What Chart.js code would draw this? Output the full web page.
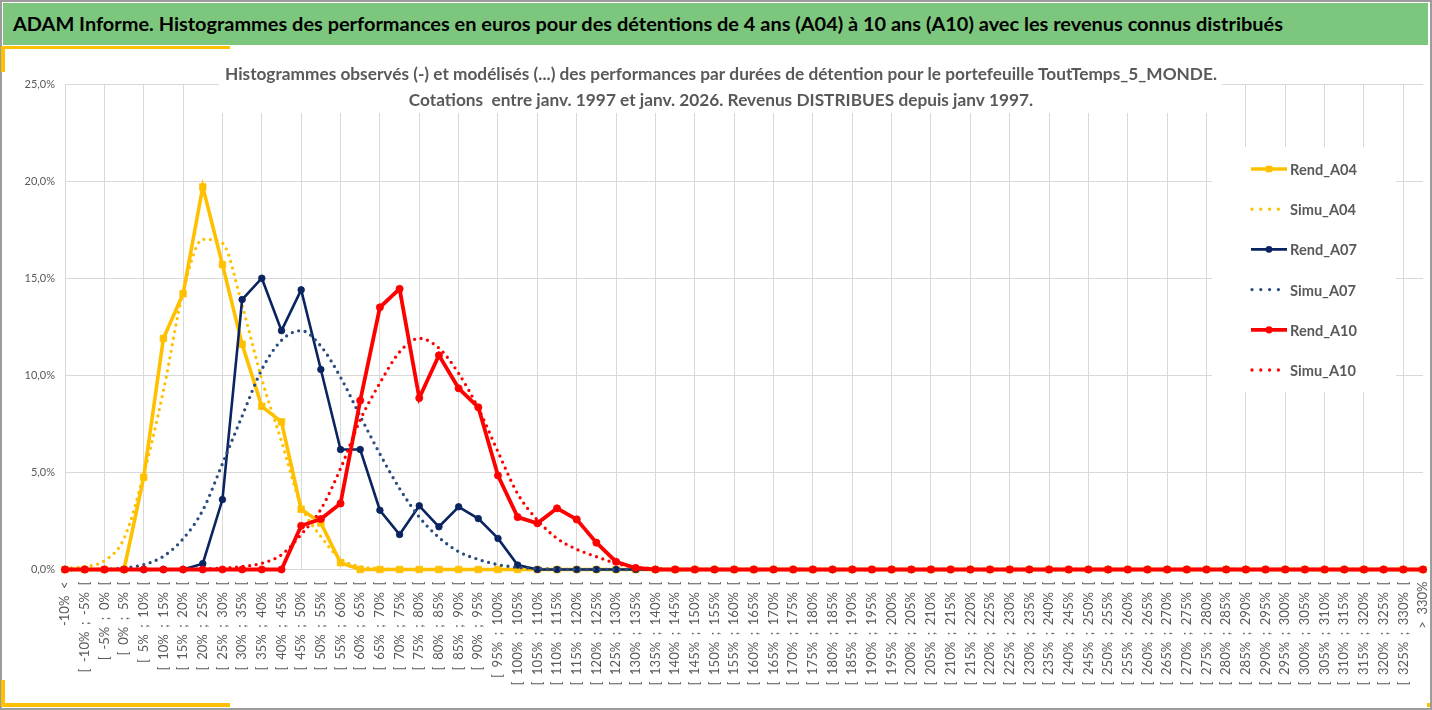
<!DOCTYPE html>
<html lang="fr">
<head>
<meta charset="utf-8">
<title>ADAM Informe - Histogrammes des performances</title>
<script src="https://cdn.jsdelivr.net/npm/chart.js@4.4.1/dist/chart.umd.min.js"></script>
<style>
    html, body { margin: 0; padding: 0; background: #fff; }
    #frame { position: relative; width: 1432px; height: 710px; overflow: hidden; font-family: Lato, "Open Sans", sans-serif; }
    #myChart { position: absolute; left: 0; top: 0; }
    #border { position: absolute; left: 0; top: 0; width: 1432px; height: 710px; box-sizing: border-box; border: 2px solid #9c9c9c; pointer-events: none; }
    #header { position: absolute; left: 3px; top: 3px; width: 1425px; height: 42px; background: #7dc67e; display: flex; align-items: center; }
    #headerText { display: inline-block; margin-left: 10px; font-weight: bold; font-size: 18.6px; color: #000; white-space: nowrap; transform-origin: left center; }
    .accent { position: absolute; background: #ffc000; }
</style>
</head>
<body>
<div id="frame">
    <canvas id="myChart" width="1432" height="710"></canvas>
    <div id="border"></div>
    <div id="header"><span id="headerText">ADAM Informe. Histogrammes des performances en euros pour des détentions de 4 ans (A04) à 10 ans (A10) avec les revenus connus distribués</span></div>
    <div class="accent" style="left:2px; top:46px; width:228px; height:3px;"></div>
    <div class="accent" style="left:1px; top:46px; width:4px; height:26px;"></div>
    <div class="accent" style="left:1px; top:680px; width:4px; height:27px;"></div>
    <div class="accent" style="left:1px; top:703px; width:229px; height:4px;"></div>
    <div class="accent" style="left:1427px; top:703px; width:3px; height:4px;"></div>
</div>
<script>
// Categories (x axis tick labels)
const categories = [
    "-10%  <", "[  -10%  ;  -5%  [", "[  -5%  ;  0%  [", "[  0%  ;  5%  [", "[  5%  ;  10%  [",
    "[  10%  ;  15%  [", "[  15%  ;  20%  [", "[  20%  ;  25%  [", "[  25%  ;  30%  [", "[  30%  ;  35%  [",
    "[  35%  ;  40%  [", "[  40%  ;  45%  [", "[  45%  ;  50%  [", "[  50%  ;  55%  [", "[  55%  ;  60%  [",
    "[  60%  ;  65%  [", "[  65%  ;  70%  [", "[  70%  ;  75%  [", "[  75%  ;  80%  [", "[  80%  ;  85%  [",
    "[  85%  ;  90%  [", "[  90%  ;  95%  [", "[  95%  ;  100%  [", "[  100%  ;  105%  [", "[  105%  ;  110%  [",
    "[  110%  ;  115%  [", "[  115%  ;  120%  [", "[  120%  ;  125%  [", "[  125%  ;  130%  [", "[  130%  ;  135%  [",
    "[  135%  ;  140%  [", "[  140%  ;  145%  [", "[  145%  ;  150%  [", "[  150%  ;  155%  [", "[  155%  ;  160%  [",
    "[  160%  ;  165%  [", "[  165%  ;  170%  [", "[  170%  ;  175%  [", "[  175%  ;  180%  [", "[  180%  ;  185%  [",
    "[  185%  ;  190%  [", "[  190%  ;  195%  [", "[  195%  ;  200%  [", "[  200%  ;  205%  [", "[  205%  ;  210%  [",
    "[  210%  ;  215%  [", "[  215%  ;  220%  [", "[  220%  ;  225%  [", "[  225%  ;  230%  [", "[  230%  ;  235%  [",
    "[  235%  ;  240%  [", "[  240%  ;  245%  [", "[  245%  ;  250%  [", "[  250%  ;  255%  [", "[  255%  ;  260%  [",
    "[  260%  ;  265%  [", "[  265%  ;  270%  [", "[  270%  ;  275%  [", "[  275%  ;  280%  [", "[  280%  ;  285%  [",
    "[  285%  ;  290%  [", "[  290%  ;  295%  [", "[  295%  ;  300%  [", "[  300%  ;  305%  [", "[  305%  ;  310%  [",
    "[  310%  ;  315%  [", "[  315%  ;  320%  [", "[  320%  ;  325%  [", "[  325%  ;  330%  [", ">  330%"
];

// Series values (in %), one value per category
const rendA04 = [
    0, 0, 0, 0, 4.75, 11.9, 14.2, 19.7, 15.7, 11.6,
    8.4, 7.6, 3.1, 2.4, 0.35, 0, 0, 0, 0, 0,
    0, 0, 0, 0, 0, 0, 0, 0, 0, 0,
    0, 0, 0, 0, 0, 0, 0, 0, 0, 0,
    0, 0, 0, 0, 0, 0, 0, 0, 0, 0,
    0, 0, 0, 0, 0, 0, 0, 0, 0, 0,
    0, 0, 0, 0, 0, 0, 0, 0, 0, 0
];
const simuA04 = [
    0.05, 0.15, 0.45, 1.6, 4.9, 9.2, 14.3, 17.0, 16.8, 13.6,
    9.8, 6.6, 3.3, 1.7, 0.55, 0.15, 0.05, 0, 0, 0,
    0, 0, 0, 0, 0, 0, 0, 0, 0, 0,
    0, 0, 0, 0, 0, 0, 0, 0, 0, 0,
    0, 0, 0, 0, 0, 0, 0, 0, 0, 0,
    0, 0, 0, 0, 0, 0, 0, 0, 0, 0,
    0, 0, 0, 0, 0, 0, 0, 0, 0, 0
];
const rendA07 = [
    0, 0, 0, 0, 0, 0, 0, 0.3, 3.6, 13.9,
    15.0, 12.3, 14.4, 10.3, 6.18, 6.18, 3.05, 1.8, 3.28, 2.2,
    3.23, 2.62, 1.6, 0.23, 0, 0, 0, 0, 0, 0,
    0, 0, 0, 0, 0, 0, 0, 0, 0, 0,
    0, 0, 0, 0, 0, 0, 0, 0, 0, 0,
    0, 0, 0, 0, 0, 0, 0, 0, 0, 0,
    0, 0, 0, 0, 0, 0, 0, 0, 0, 0
];
const simuA07 = [
    0, 0, 0, 0.08, 0.25, 0.68, 1.58, 3.05, 5.45, 7.9,
    10.3, 11.8, 12.3, 11.5, 9.9, 7.9, 5.95, 4.17, 2.7, 1.65,
    0.92, 0.52, 0.25, 0.11, 0.05, 0.02, 0, 0, 0, 0,
    0, 0, 0, 0, 0, 0, 0, 0, 0, 0,
    0, 0, 0, 0, 0, 0, 0, 0, 0, 0,
    0, 0, 0, 0, 0, 0, 0, 0, 0, 0,
    0, 0, 0, 0, 0, 0, 0, 0, 0, 0
];
const rendA10 = [
    0, 0, 0, 0, 0, 0, 0, 0, 0, 0,
    0, 0, 2.25, 2.6, 3.4, 8.7, 13.5, 14.45, 8.83, 11.03,
    9.33, 8.35, 4.84, 2.7, 2.38, 3.15, 2.58, 1.38, 0.4, 0.08,
    0, 0, 0, 0, 0, 0, 0, 0, 0, 0,
    0, 0, 0, 0, 0, 0, 0, 0, 0, 0,
    0, 0, 0, 0, 0, 0, 0, 0, 0, 0,
    0, 0, 0, 0, 0, 0, 0, 0, 0, 0
];
const simuA10 = [
    0, 0, 0, 0, 0, 0, 0, 0.03, 0.07, 0.15,
    0.32, 0.76, 1.8, 3.1, 5.2, 7.7, 9.6, 11.2, 11.9, 11.4,
    10.1, 8.3, 6.06, 3.9, 2.55, 1.6, 1.04, 0.66, 0.32, 0.11,
    0.05, 0, 0, 0, 0, 0, 0, 0, 0, 0,
    0, 0, 0, 0, 0, 0, 0, 0, 0, 0,
    0, 0, 0, 0, 0, 0, 0, 0, 0, 0,
    0, 0, 0, 0, 0, 0, 0, 0, 0, 0
];

// Y axis ticks
const yTicks = [0, 5, 10, 15, 20, 25];

const chartTitle = [
    "Histogrammes observés (-) et modélisés (...) des performances par durées de détention pour le portefeuille ToutTemps_5_MONDE.",
    "Cotations  entre janv. 1997 et janv. 2026. Revenus DISTRIBUES depuis janv 1997."
];

const YELLOW = '#FFC000';
const NAVY = '#0A2461';
const BLUE_DOT = '#2B4C7E';
const RED = '#FF0000';
const GREY_TEXT = '#595959';
const GRID = '#D9D9D9';

// Function to build a solid "Rend" series
function rendSeries(label, data, color, width, style, radius, order) {
    return {
        label: label,
        data: data,
        borderColor: color,
        backgroundColor: color,
        borderWidth: width,
        pointStyle: style,
        pointRadius: radius,
        pointHoverRadius: radius,
        pointBorderWidth: 0.8,
        pointBorderColor: color,
        pointBackgroundColor: color,
        tension: 0,
        clip: false,
        order: order
    };
}

// Function to build a dotted smoothed "Simu" series
function simuSeries(label, data, color, order) {
    return {
        label: label,
        data: data,
        borderColor: color,
        backgroundColor: color,
        borderWidth: 3.3,
        borderDash: [0, 6.6],
        borderCapStyle: 'round',
        pointRadius: 0,
        pointHoverRadius: 0,
        cubicInterpolationMode: 'monotone',
        clip: false,
        order: order
    };
}

// Plugin drawing the in-plot title and legend boxes (Excel style)
const excelOverlay = {
    id: 'excelOverlay',
    beforeDatasetsDraw(chart) {
        const ctx = chart.ctx;
        ctx.save();

        // white boxes hiding the grid behind title and legend
        ctx.fillStyle = '#fff';
        ctx.fillRect(219, 55, 1003, 58);
        ctx.fillRect(1212, 147, 184, 245);

        // title, two lines
        ctx.fillStyle = GREY_TEXT;
        ctx.font = 'bold 17px Lato';
        ctx.textAlign = 'center';
        ctx.textBaseline = 'alphabetic';
        const k = 992 / ctx.measureText(chartTitle[0]).width;
        chartTitle.forEach((line, i) => {
            ctx.save();
            ctx.translate(721, 80 + i * 26);
            ctx.scale(k, 1);
            ctx.fillText(line, 0, 0);
            ctx.restore();
        });

        // legend
        ctx.font = 'bold 16px Lato';
        ctx.textAlign = 'left';
        const kl = 67 / ctx.measureText('Rend_A04').width;
        chart.data.datasets.forEach((ds, i) => {
            const y = 169 + i * 40.2;
            ctx.save();
            ctx.strokeStyle = ds.borderColor;
            ctx.fillStyle = ds.borderColor;
            ctx.lineWidth = ds.borderWidth;
            ctx.beginPath();
            if (ds.borderDash) {
                ctx.setLineDash([0, 8.8]);
                ctx.lineCap = 'round';
                ctx.moveTo(1252, y);
                ctx.lineTo(1279, y);
                ctx.stroke();
            } else {
                ctx.moveTo(1251, y);
                ctx.lineTo(1287, y);
                ctx.stroke();
                ctx.beginPath();
                if (ds.pointStyle === 'rect') {
                    const s = ds.pointRadius * Math.SQRT1_2;
                    ctx.rect(1269 - s, y - s, 2 * s, 2 * s);
                } else {
                    ctx.arc(1269, y, ds.pointRadius, 0, Math.PI * 2);
                }
                ctx.fill();
            }
            ctx.restore();

            ctx.save();
            ctx.fillStyle = GREY_TEXT;
            ctx.translate(1290, y + 6);
            ctx.scale(kl, 1);
            ctx.fillText(ds.label, 0, 0);
            ctx.restore();
        });

        ctx.restore();
    }
};

// Function to render the chart
function renderChart() {
    const ctx = document.getElementById('myChart').getContext('2d');
    new Chart(ctx, {
        type: 'line',
        data: {
            labels: categories,
            datasets: [
                rendSeries('Rend_A04', rendA04, YELLOW, 3.6, 'rect', 4.6, 6),
                simuSeries('Simu_A04', simuA04, YELLOW, 5),
                rendSeries('Rend_A07', rendA07, NAVY, 2.6, 'circle', 3.3, 4),
                simuSeries('Simu_A07', simuA07, BLUE_DOT, 3),
                rendSeries('Rend_A10', rendA10, RED, 3.8, 'circle', 3.6, 2),
                simuSeries('Simu_A10', simuA10, RED, 1)
            ]
        },
        options: {
            responsive: false,
            animation: false,
            events: [],
            layout: { padding: { top: 84, right: 9, left: 0, bottom: 0 } },
            plugins: {
                legend: { display: false },
                title: { display: false },
                tooltip: { enabled: false }
            },
            scales: {
                x: {
                    type: 'category',
                    offset: false,
                    afterFit: scale => {
                        scale.height = 140.5;
                        scale.paddingLeft = 0;
                        scale.paddingRight = 0;
                    },
                    border: { display: false },
                    grid: {
                        drawTicks: false,
                        lineWidth: 1,
                        color: c => (c.index % 2 === 0 ? GRID : 'rgba(0,0,0,0)')
                    },
                    ticks: {
                        autoSkip: false,
                        minRotation: 90,
                        maxRotation: 90,
                        padding: 12,
                        color: GREY_TEXT,
                        font: { family: 'Lato', size: 13 }
                    }
                },
                y: {
                    min: yTicks[0],
                    max: yTicks[yTicks.length - 1],
                    afterFit: scale => { scale.width = 65; },
                    afterBuildTicks: scale => { scale.ticks = yTicks.map(v => ({ value: v })); },
                    border: { display: false },
                    grid: { drawTicks: false, color: GRID, lineWidth: 1 },
                    ticks: {
                        padding: 10,
                        color: GREY_TEXT,
                        font: { family: 'Lato', size: 11 },
                        callback: v => v.toFixed(1).replace('.', ',') + '%'
                    }
                }
            }
        },
        plugins: [excelOverlay]
    });
}

// Fit the header text to the width it has in the reference
function fitHeader() {
    const span = document.getElementById('headerText');
    const w = span.getBoundingClientRect().width;
    span.style.transform = 'scaleX(' + (1270 / w) + ')';
}

fitHeader();
renderChart();
</script>
</body>
</html>
